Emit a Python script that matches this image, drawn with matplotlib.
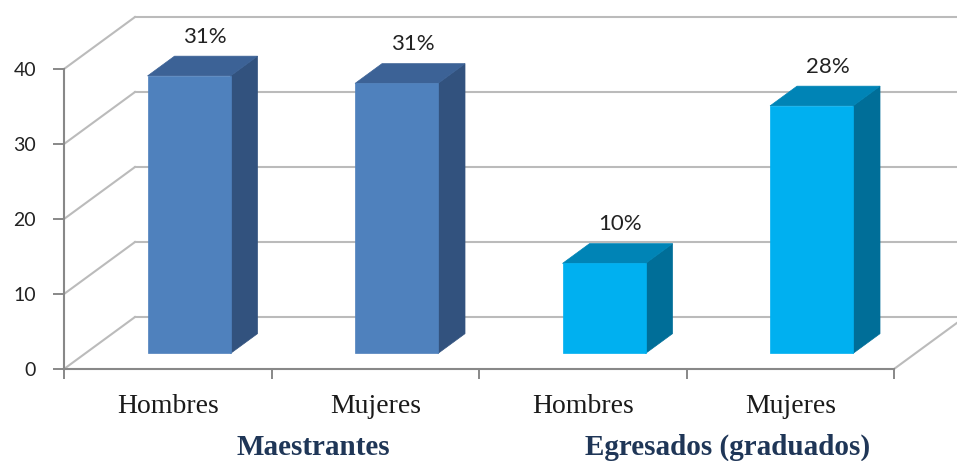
import matplotlib.pyplot as plt
from matplotlib.patches import Polygon

# data
categories = ["Hombres", "Mujeres", "Hombres", "Mujeres"]
values = [37, 36, 12, 33]
value_labels = ["31%", "31%", "10%", "28%"]
groups = ["Maestrantes", "Egresados (graduados)"]
yticks = [0, 10, 20, 30, 40]

# colors per bar: front, side, top
front_cols = ["#4F81BD", "#4F81BD", "#00B0F0", "#00B0F0"]
side_cols = ["#32527E", "#32527E", "#006E98", "#006E98"]
top_cols = ["#3C6296", "#3C6296", "#0084B6", "#0084B6"]

grid_col = "#BBBBBB"
axis_col = "#888888"

# fake 3D depth (in data units)
DX, DY = 0.342, 6.93
f0, f1 = 0.30, 0.68
bar_w = 0.4

fig = plt.figure(figsize=(9.57, 4.61), dpi=100)
ax = fig.add_axes([64 / 957, 92 / 461, 830 / 957, 300 / 461])
ax.set_xlim(0, 4)
ax.set_ylim(0, 40)

# walls / gridlines
for v in yticks:
    ax.plot([0, DX], [v, v + DY], color=grid_col, lw=1.5, clip_on=False, zorder=1)
    ax.plot([DX, 4 + DX + 0.5], [v + DY, v + DY], color=grid_col, lw=1.5,
            clip_on=False, zorder=1)
ax.plot([4, 4 + DX], [0, DY], color=grid_col, lw=1.5, clip_on=False, zorder=1)

# bars
ddx, ddy = (f1 - f0) * DX, (f1 - f0) * DY
for i, v in enumerate(values):
    x0 = i + 0.5 - bar_w / 2 + f0 * DX
    y0 = f0 * DY
    front = [(x0, y0), (x0 + bar_w, y0), (x0 + bar_w, y0 + v), (x0, y0 + v)]
    side = [(x0 + bar_w, y0), (x0 + bar_w + ddx, y0 + ddy),
            (x0 + bar_w + ddx, y0 + v + ddy), (x0 + bar_w, y0 + v)]
    top = [(x0, y0 + v), (x0 + bar_w, y0 + v),
           (x0 + bar_w + ddx, y0 + v + ddy), (x0 + ddx, y0 + v + ddy)]
    for pts, c in [(side, side_cols[i]), (top, top_cols[i]), (front, front_cols[i])]:
        ax.add_patch(Polygon(pts, closed=True, facecolor=c, edgecolor=c, lw=0.5,
                             clip_on=False, zorder=3))
    ax.text(i + 0.5 + 0.18, v + 7.3, value_labels[i], ha="center", va="center",
            fontsize=16, family="Lato", color="#222222", zorder=4)

# axes styling
for s in ["top", "right"]:
    ax.spines[s].set_visible(False)
for s in ["left", "bottom"]:
    ax.spines[s].set_color(axis_col)
    ax.spines[s].set_linewidth(1.5)
    ax.spines[s].set_zorder(2)

ax.set_yticks(yticks)
ax.set_yticklabels([str(t) for t in yticks], family="Lato", fontsize=14, color="#222222")
ax.tick_params(axis="y", length=8, width=1.4, color=axis_col, pad=12)

ax.set_xticks([0, 1, 2, 3, 4])
ax.set_xticklabels([])
ax.tick_params(axis="x", which="major", length=7, width=1.4, color=axis_col)
ax.set_xticks([0.5, 1.5, 2.5, 3.5], minor=True)
ax.set_xticklabels(categories, minor=True, family="Liberation Serif", fontsize=20,
                   color="#1A1A1A")
ax.tick_params(axis="x", which="minor", length=0, pad=18)

ax.patch.set_alpha(0)

# group labels
for gx, g in zip([1.2, 3.2], groups):
    ax.text(gx, -11.4, g, ha="center", va="baseline", family="Liberation Serif",
            fontsize=21, fontweight="bold", color="#1F3657", clip_on=False)

fig.savefig("out.png", dpi=100)
